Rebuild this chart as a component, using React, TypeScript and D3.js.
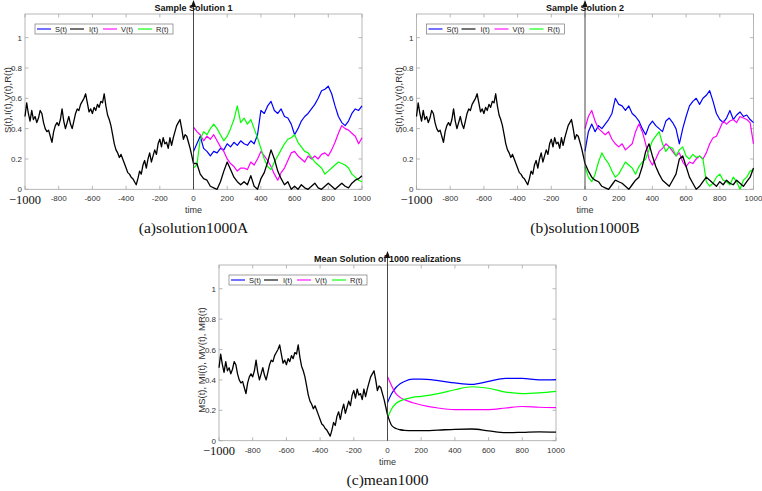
import React from "react";
import * as d3 from "d3";

// ---------- data ----------
const HIST_T = d3.range(-1000, 1, 10);
const HIST_I = [
  0.48, 0.57, 0.5, 0.45, 0.52, 0.46, 0.48, 0.44, 0.47, 0.52,
  0.5, 0.44, 0.4, 0.38, 0.39, 0.35, 0.31, 0.38, 0.42, 0.44,
  0.42, 0.46, 0.53, 0.45, 0.4, 0.44, 0.48, 0.43, 0.4, 0.45,
  0.5, 0.53, 0.52, 0.56, 0.58, 0.6, 0.63, 0.57, 0.51, 0.53,
  0.5, 0.54, 0.52, 0.56, 0.54, 0.58, 0.57, 0.63, 0.55, 0.49,
  0.46, 0.42, 0.36, 0.3, 0.26, 0.24, 0.21, 0.23, 0.2, 0.17,
  0.14, 0.11, 0.1, 0.08, 0.07, 0.05, 0.03, 0.07, 0.12, 0.1,
  0.16, 0.19, 0.14, 0.2, 0.24, 0.18, 0.22, 0.26, 0.23, 0.3,
  0.33, 0.28, 0.34, 0.3, 0.31, 0.27, 0.34, 0.29, 0.34, 0.38,
  0.42, 0.44, 0.46, 0.4, 0.33, 0.36, 0.35, 0.31, 0.27, 0.22,
  0.17,
];

const SIM_T = d3.range(0, 1001, 20);

const A_S = [0.25, 0.3, 0.35, 0.27, 0.25, 0.22, 0.25, 0.24, 0.27, 0.26, 0.3, 0.28, 0.31, 0.29, 0.32, 0.3, 0.29, 0.32, 0.3, 0.36, 0.52, 0.5, 0.55, 0.58, 0.52, 0.5, 0.53, 0.48, 0.47, 0.43, 0.36, 0.4, 0.45, 0.48, 0.5, 0.53, 0.56, 0.6, 0.65, 0.66, 0.68, 0.63, 0.55, 0.48, 0.44, 0.42, 0.45, 0.5, 0.53, 0.52, 0.55];
const A_I = [0.17, 0.17, 0.1, 0.07, 0.06, 0.02, 0.01, 0.0, 0.05, 0.12, 0.18, 0.13, 0.08, 0.05, 0.03, 0.05, 0.03, 0.09, 0.02, 0.0, 0.07, 0.11, 0.18, 0.26, 0.2, 0.12, 0.07, 0.03, 0.05, 0.0, 0.02, 0.0, 0.03, 0.01, 0.0, 0.02, 0.04, 0.01, 0.0, 0.02, 0.04, 0.02, 0.0, 0.02, 0.04, 0.02, 0.01, 0.04, 0.06, 0.07, 0.09];
const A_V = [0.41, 0.38, 0.36, 0.32, 0.35, 0.33, 0.36, 0.32, 0.28, 0.25, 0.2, 0.17, 0.15, 0.12, 0.14, 0.14, 0.13, 0.18, 0.16, 0.2, 0.25, 0.22, 0.19, 0.15, 0.1, 0.06, 0.11, 0.14, 0.19, 0.24, 0.25, 0.22, 0.2, 0.18, 0.22, 0.2, 0.22, 0.2, 0.23, 0.24, 0.22, 0.26, 0.31, 0.37, 0.42, 0.4, 0.39, 0.37, 0.35, 0.3, 0.34];
const A_R = [0.14, 0.16, 0.33, 0.38, 0.36, 0.4, 0.43, 0.4, 0.36, 0.32, 0.35, 0.4, 0.46, 0.55, 0.44, 0.47, 0.43, 0.46, 0.4, 0.34, 0.27, 0.2, 0.15, 0.13, 0.18, 0.22, 0.26, 0.3, 0.33, 0.34, 0.36, 0.31, 0.28, 0.25, 0.24, 0.21, 0.18, 0.16, 0.14, 0.1, 0.12, 0.14, 0.16, 0.18, 0.17, 0.16, 0.14, 0.1, 0.08, 0.06, 0.05];

const B_S = [0.25, 0.38, 0.43, 0.38, 0.42, 0.4, 0.43, 0.46, 0.5, 0.6, 0.56, 0.55, 0.52, 0.55, 0.5, 0.48, 0.45, 0.4, 0.36, 0.42, 0.45, 0.42, 0.4, 0.38, 0.45, 0.47, 0.44, 0.4, 0.3, 0.4, 0.48, 0.55, 0.58, 0.6, 0.56, 0.6, 0.62, 0.65, 0.58, 0.5, 0.46, 0.44, 0.47, 0.52, 0.46, 0.49, 0.51, 0.48, 0.49, 0.46, 0.44];
const B_I = [0.17, 0.12, 0.08, 0.06, 0.05, 0.02, 0.01, 0.0, 0.03, 0.06, 0.05, 0.04, 0.02, 0.0, 0.03, 0.06, 0.08, 0.15, 0.25, 0.3, 0.22, 0.15, 0.1, 0.06, 0.04, 0.02, 0.06, 0.1, 0.2, 0.22, 0.15, 0.08, 0.04, 0.0, 0.02, 0.05, 0.08, 0.06, 0.04, 0.02, 0.05, 0.03, 0.06, 0.04, 0.03, 0.06, 0.04, 0.02, 0.05, 0.08, 0.14];
const B_V = [0.4, 0.48, 0.52, 0.45, 0.4, 0.38, 0.36, 0.38, 0.33, 0.3, 0.28, 0.3, 0.26, 0.28, 0.3, 0.38, 0.43, 0.38, 0.3, 0.2, 0.16, 0.2, 0.25, 0.27, 0.3, 0.28, 0.25, 0.22, 0.24, 0.18, 0.15, 0.18, 0.17, 0.2, 0.22, 0.2, 0.24, 0.3, 0.34, 0.35, 0.4, 0.45, 0.43, 0.45, 0.46, 0.44, 0.48, 0.47, 0.46, 0.44, 0.3];
const B_R = [0.15, 0.08, 0.05, 0.1, 0.18, 0.24, 0.2, 0.17, 0.12, 0.08, 0.1, 0.14, 0.18, 0.16, 0.14, 0.1, 0.15, 0.18, 0.2, 0.26, 0.32, 0.35, 0.38, 0.3, 0.25, 0.28, 0.27, 0.22, 0.26, 0.28, 0.22, 0.2, 0.23, 0.21, 0.22, 0.2, 0.05, 0.02, 0.04, 0.08, 0.1, 0.06, 0.05, 0.03, 0.08, 0.05, 0.0, 0.06, 0.08, 0.12, 0.13];

const MEAN_T = [0, 25, 50, 75, 100, 150, 200, 300, 400, 500, 600, 700, 800, 900, 1000];
const C_S = [0.25, 0.31, 0.35, 0.375, 0.39, 0.405, 0.405, 0.395, 0.38, 0.37, 0.39, 0.41, 0.41, 0.4, 0.402];
const C_I = [0.17, 0.1, 0.08, 0.072, 0.068, 0.066, 0.066, 0.07, 0.075, 0.077, 0.065, 0.053, 0.055, 0.058, 0.056];
const C_V = [0.42, 0.36, 0.31, 0.285, 0.27, 0.25, 0.235, 0.215, 0.205, 0.205, 0.205, 0.215, 0.225, 0.22, 0.218];
const C_R = [0.15, 0.21, 0.245, 0.262, 0.272, 0.285, 0.292, 0.31, 0.335, 0.355, 0.345, 0.32, 0.31, 0.315, 0.325];

const X_TICKS = [-1000, -800, -600, -400, -200, 0, 200, 400, 600, 800, 1000];
const Y_TICKS = [0, 0.2, 0.4, 0.6, 0.8, 1];
const LEGEND = ["S(t)", "I(t)", "V(t)", "R(t)"];
const COLORS = ["#0000ff", "#000000", "#ff00ff", "#00ff00"];

type Series = { t: number[]; v: number[]; color: string };

const SANS = "Arial, 'Liberation Sans', Helvetica, sans-serif";
const SERIF = "'Times New Roman', 'Liberation Serif', serif";

function Panel(props: {
  left: number; top: number; right: number; bottom: number;
  title: string; ylabel: string; ylabelY: number; caption: string; captionY: number;
  series: Series[]; smooth?: boolean;
}) {
  const { left, top, right, bottom, title, ylabel, ylabelY, caption, captionY, series, smooth } = props;
  const x = d3.scaleLinear().domain([-1000, 1000]).range([left, right]);
  const y = d3.scaleLinear().domain([0, 1.156]).range([bottom, top]);
  const x0 = x(0);
  const tickLen = 3.5;
  const gray = "#a6a6a6";
  const lx = left + 10;
  const ly = top + 15;
  const legendItems = [
    { l0: 2, l1: 16, tx: 20 },
    { l0: 35, l1: 49, tx: 54 },
    { l0: 68, l1: 82, tx: 86 },
    { l0: 103, l1: 117, tx: 121 },
  ];
  return (
    <g>
      <rect x={left} y={top} width={right - left} height={bottom - top} fill="white" stroke={gray} strokeWidth={0.8} />
      {X_TICKS.map((t) => (
        <g key={"xt" + t}>
          <line x1={x(t)} x2={x(t)} y1={bottom} y2={bottom - tickLen} stroke={gray} strokeWidth={0.8} />
          <line x1={x(t)} x2={x(t)} y1={top} y2={top + tickLen} stroke={gray} strokeWidth={0.8} />
          {t === -1000 ? (
            <text x={x(t)} y={bottom + 14.5} fontFamily={SERIF} fontSize={12.5} textAnchor="middle" fill="#111">
              {"\u22121000"}
            </text>
          ) : (
            <text x={x(t)} y={bottom + 12} fontFamily={SANS} fontSize={8} textAnchor="middle" fill="#333">
              {t}
            </text>
          )}
        </g>
      ))}
      {Y_TICKS.map((v) => (
        <g key={"yt" + v}>
          <line x1={left} x2={left + tickLen} y1={y(v)} y2={y(v)} stroke={gray} strokeWidth={0.8} />
          <line x1={right} x2={right - tickLen} y1={y(v)} y2={y(v)} stroke={gray} strokeWidth={0.8} />
          <text x={left - 3} y={y(v) + 3} fontFamily={SANS} fontSize={8} textAnchor="end" fill="#333">
            {String(v)}
          </text>
        </g>
      ))}
      {series.map((s, i) => {
        const pts = s.t.map((t, k) => [t, s.v[k]] as [number, number]);
        const gen = d3.line<[number, number]>().x((d) => x(d[0])).y((d) => y(d[1]));
        if (smooth && s.t.length < 40) gen.curve(d3.curveMonotoneX);
        return (
          <path key={i} d={gen(pts) || ""} fill="none" stroke={s.color}
            strokeWidth={s.color === "#000000" ? 1.3 : 1.2} strokeLinejoin="round" />
        );
      })}
      <line x1={x0} x2={x0} y1={bottom} y2={top - 9} stroke="#333" strokeWidth={0.9} />
      <path d={`M${x0},${top - 14} L${x0 - 2.6},${top - 7} L${x0 + 2.6},${top - 7} Z`} fill="#111" />
      <text x={x0} y={top - 3} fontFamily={SANS} fontSize={9} fontWeight="bold" textAnchor="middle" fill="#111">
        {title}
      </text>
      <rect x={lx} y={top + 10} width={138} height={10} fill="white" stroke="#777" strokeWidth={0.7} />
      {legendItems.map((it, i) => (
        <g key={"lg" + i}>
          <line x1={lx + it.l0} x2={lx + it.l1} y1={ly} y2={ly} stroke={COLORS[i]} strokeWidth={1.1} />
          <text x={lx + it.tx} y={ly + 2.7} fontFamily={SANS} fontSize={7.5} fill="#222">
            {LEGEND[i]}
          </text>
        </g>
      ))}
      <text x={x0} y={bottom + 24} fontFamily={SANS} fontSize={9} textAnchor="middle" fill="#333">
        time
      </text>
      <text
        transform={`translate(${left - 14.5},${ylabelY}) rotate(-90)`}
        fontFamily={SANS}
        fontSize={9.5}
        textAnchor="middle"
        fill="#333"
      >
        {ylabel}
      </text>
      <text x={(left + right) / 2} y={captionY} fontFamily={SERIF} fontSize={15.5} textAnchor="middle" fill="#111">
        {caption}
      </text>
    </g>
  );
}

function sims(S: number[], I: number[], V: number[], R: number[]): Series[] {
  return [
    { t: HIST_T, v: HIST_I, color: COLORS[1] },
    { t: SIM_T, v: S, color: COLORS[0] },
    { t: SIM_T, v: V, color: COLORS[2] },
    { t: SIM_T, v: R, color: COLORS[3] },
    { t: SIM_T, v: I, color: COLORS[1] },
  ];
}

export default function App() {
  const meanSeries: Series[] = [
    { t: HIST_T, v: HIST_I, color: COLORS[1] },
    { t: MEAN_T, v: C_S, color: COLORS[0] },
    { t: MEAN_T, v: C_V, color: COLORS[2] },
    { t: MEAN_T, v: C_R, color: COLORS[3] },
    { t: MEAN_T, v: C_I, color: COLORS[1] },
  ];
  return (
    <svg
      width={762}
      height={491}
      viewBox="0 0 762 491"
      style={{ position: "absolute", left: 0, top: 0, background: "white" }}
    >
      <rect x={0} y={0} width={762} height={491} fill="white" />
      <Panel
        left={25} top={14} right={362} bottom={189.3}
        title="Sample Solution 1" ylabel="S(t),I(t),V(t),R(t)" ylabelY={100}
        caption="(a)solution1000A" captionY={233}
        series={sims(A_S, A_I, A_V, A_R)}
      />
      <Panel
        left={416.5} top={14} right={753.5} bottom={189.3}
        title="Sample Solution 2" ylabel="S(t),I(t),V(t),R(t)" ylabelY={100}
        caption="(b)solution1000B" captionY={233}
        series={sims(B_S, B_I, B_V, B_R)}
      />
      <Panel
        left={219} top={265} right={556} bottom={440.7}
        title="Mean Solution of 1000 realizations" ylabel="MS(t), MI(t), MV(t), MR(t)" ylabelY={360}
        caption="(c)mean1000" captionY={485}
        series={meanSeries} smooth
      />
    </svg>
  );
}
